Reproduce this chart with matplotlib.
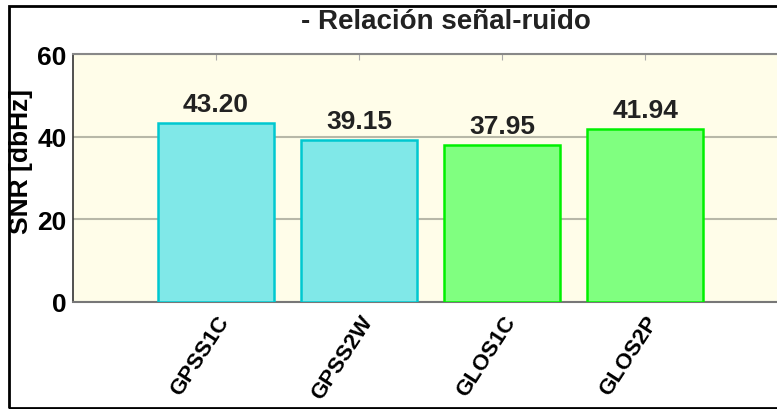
import matplotlib
matplotlib.use("Agg")
import matplotlib.pyplot as plt
from matplotlib.patches import Rectangle

categories = ["GPSS1C", "GPSS2W", "GLOS1C", "GLOS2P"]
snr_values = [43.20, 39.15, 37.95, 41.94]
face_colors = ["#80E8E8", "#80E8E8", "#80FF80", "#80FF80"]
edge_colors = ["#00C8D0", "#00C8D0", "#00F000", "#00F000"]
y_ticks = [0, 20, 40, 60]

plt.rcParams['font.family'] = ['Liberation Sans', 'DejaVu Sans']

W, H = 777, 410
fig = plt.figure(figsize=(W / 100, H / 100), dpi=100)
ax = fig.add_axes([73 / W, 1 - 303 / H, (W - 73) / W, (303 - 55) / H])
ax.set_facecolor("#FFFDE9")

x = list(range(len(categories)))
ax.bar(x, snr_values, width=0.81, color=face_colors, edgecolor=edge_colors,
       linewidth=1.8, zorder=3)
for xi, v in zip(x, snr_values):
    ax.annotate(f"{v:.2f}", (xi, v), xytext=(0, 5), textcoords="offset points",
                ha="center", va="bottom", fontsize=19, fontweight="bold",
                color="#222222")

ax.set_xlim(-1, 3.92)
ax.set_ylim(0, 60)
ax.set_yticks(y_ticks)
ax.set_yticklabels([str(t) for t in y_ticks], fontsize=19, fontweight="bold")
ax.set_xticks(x)
ax.set_xticklabels(categories, rotation=57, ha="right", va="top",
                   rotation_mode="anchor", fontsize=16, fontweight="bold")
ax.tick_params(axis="x", bottom=False, top=True, direction="in", length=4,
               color="#AAAAAA", pad=7)
ax.tick_params(axis="y", left=False, pad=1)
ax.yaxis.grid(True, color="#B8B8A8", linewidth=1.5, zorder=1)
ax.set_axisbelow(True)

ax.spines["top"].set_color("#888888")
ax.spines["top"].set_linewidth(1.5)
ax.spines["bottom"].set_color("#777777")
ax.spines["bottom"].set_linewidth(1.5)
ax.spines["left"].set_color("#333333")
ax.spines["left"].set_linewidth(1.2)
ax.spines["right"].set_visible(False)

ax.set_ylabel("SNR [dbHz]", fontsize=19, fontweight="bold", va="center")
ax.yaxis.set_label_coords((21 - 73) / (W - 73), (303 - 162) / (303 - 55))

fig.text(446 / W, 1 - 29 / H, "- Relación señal-ruido", ha="center",
         va="baseline", fontsize=20, fontweight="bold", color="#222222")

fig.patches.append(Rectangle((9 / W, 1 - 409 / H), 1.0, (409 - 7) / H,
                             transform=fig.transFigure, fill=False,
                             edgecolor="black", linewidth=2, zorder=10))

fig.savefig("out.png", dpi=100)
